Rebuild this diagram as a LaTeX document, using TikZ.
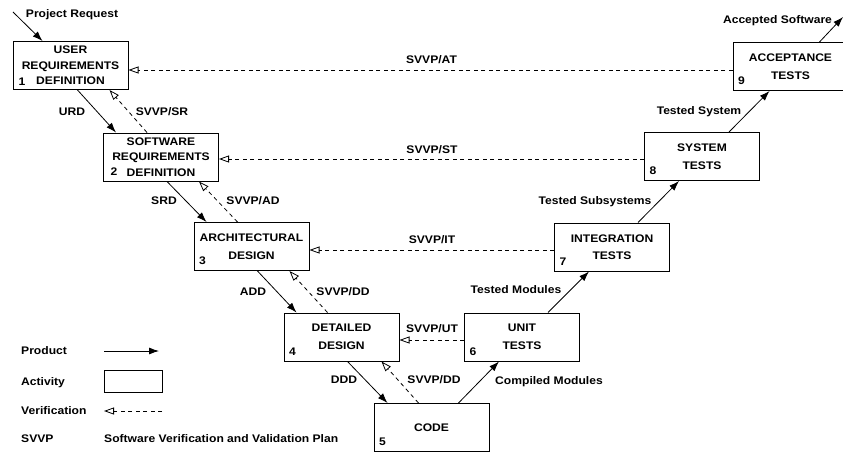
\documentclass[tikz,border=0pt]{standalone}
\usepackage{fontspec}
\setmainfont{Liberation Sans}[FakeStretch=1.1]
\usetikzlibrary{arrows.meta,calc}
\tikzset{
  box/.style={draw, line width=1pt, minimum width=115pt, minimum height=48pt, inner sep=0pt, align=center, font=\bfseries\fontsize{11}{15.5}\selectfont},
  boxtwo/.style={box, font=\bfseries\fontsize{11}{17.5}\selectfont},
  num/.style={font=\bfseries\fontsize{11}{13}\selectfont, inner sep=0pt, text height=7.8pt, text depth=0pt},
  lbl/.style={font=\bfseries\fontsize{11}{13}\selectfont, inner sep=0pt, text height=7.8pt, text depth=0pt},
  prod/.style={line width=0.8pt, -{Latex[length=10pt,width=7pt]}},
  verif/.style={line width=0.8pt, dash pattern=on 4pt off 3.5pt, -{Triangle[open,length=10pt,width=7pt]}},
}
\begin{document}
\begin{tikzpicture}[x=1pt,y=-1pt]
\clip (0,0) rectangle (843,452);
\fill[white] (0,0) rectangle (843,452);
% boxes
\node[box] (u) at (70.5,65.5) {USER\\REQUIREMENTS\\DEFINITION};
\node[box] (s) at (161,157) {SOFTWARE\\REQUIREMENTS\\DEFINITION};
\node[boxtwo] (a) at (251.5,246.5) {ARCHITECTURAL\\DESIGN};
\node[boxtwo] (d) at (341.5,337) {DETAILED\\DESIGN};
\node[box] (c) at (431.5,427.5) {CODE};
\node[boxtwo] (ut) at (522,337) {UNIT\\TESTS};
\node[boxtwo] (it) at (612,247) {INTEGRATION\\TESTS};
\node[boxtwo] (st) at (702,156.5) {SYSTEM\\TESTS};
\node[boxtwo] (at) at (790.5,66.5) {ACCEPTANCE\\TESTS};
% numbers
\node[num] (n1) at ($(u.south west)+(9.5,-8.5)$) {1};
\node[num] (n2) at ($(s.south west)+(11,-9.5)$) {2};
\node[num] (n3) at ($(a.south west)+(9,-10)$) {3};
\node[num] (n4) at ($(d.south west)+(9,-10)$) {4};
\node[num] (n5) at ($(c.south west)+(9,-10)$) {5};
\node[num] (n6) at ($(ut.south west)+(9,-10)$) {6};
\node[num] (n7) at ($(it.south west)+(9,-10)$) {7};
\node[num] (n8) at ($(st.south west)+(9,-10)$) {8};
\node[num] (n9) at ($(at.south west)+(9,-10)$) {9};
% in / out
\coordinate (pr) at (13,12);
\coordinate (as) at (843,17);
\draw[prod] (pr) -- ([xshift=30pt]u.north west);
\draw[prod] ([xshift=87pt]at.north west) -- (as);
\node[lbl] (prl) at (72,14) {Project Request};
\node[lbl] (asl) at (777.5,20) {Accepted Software};
% product arrows down
\draw[prod] ([xshift=65pt]u.south west) -- ([xshift=13pt]s.north west);
\draw[prod] ([xshift=64pt]s.south west) -- ([xshift=13pt]a.north west);
\draw[prod] ([xshift=64pt]a.south west) -- ([xshift=13pt]d.north west);
\draw[prod] ([xshift=64pt]d.south west) -- ([xshift=14pt]c.north west);
% product arrows up
\draw[prod] ([xshift=85pt]c.north west) -- ([xshift=35pt]ut.south west);
\draw[prod] ([xshift=84pt]ut.north west) -- ([xshift=35pt]it.south west);
\draw[prod] ([xshift=84pt]it.north west) -- ([xshift=35pt]st.south west);
\draw[prod] ([xshift=85pt]st.north west) -- ([xshift=37pt]at.south west);
% verification diagonal
\draw[verif] ([xshift=44pt]s.north west) -- ([xshift=97pt]u.south west);
\draw[verif] ([xshift=44pt]a.north west) -- ([xshift=96pt]s.south west);
\draw[verif] ([xshift=44pt]d.north west) -- ([xshift=96pt]a.south west);
\draw[verif] ([xshift=45pt]c.north west) -- ([xshift=98pt]d.south west);
% verification horizontal
\draw[verif] ([yshift=-3.5pt]at.west) -- ([yshift=-4.5pt]u.east);
\draw[verif] ([yshift=-2.5pt]st.west) -- ([yshift=-2pt]s.east);
\draw[verif] ([yshift=-3pt]it.west) -- ([yshift=-3.5pt]a.east);
\draw[verif] ([yshift=-3pt]ut.west) -- ([yshift=-3pt]d.east);
% labels
\node[lbl] (l1) at (72,112) {URD};
\node[lbl] (l2) at (162,112) {SVVP/SR};
\node[lbl] (l3) at (164,201) {SRD};
\node[lbl] (l4) at (253,201) {SVVP/AD};
\node[lbl] (l5) at (253,292) {ADD};
\node[lbl] (l6) at (343,292) {SVVP/DD};
\node[lbl] (l7) at (344,380) {DDD};
\node[lbl] (l8) at (434,380) {SVVP/DD};
\node[lbl] (l9) at (549,381) {Compiled Modules};
\node[lbl] (l10) at (516,290) {Tested Modules};
\node[lbl] (l11) at (595,201) {Tested Subsystems};
\node[lbl] (l12) at (699,111) {Tested System};
\node[lbl] (l13) at (431.5,60) {SVVP/AT};
\node[lbl] (l14) at (432,150) {SVVP/ST};
\node[lbl] (l15) at (432,240) {SVVP/IT};
\node[lbl] (l16) at (432,329) {SVVP/UT};
% legend
\node[lbl, anchor=west] (gp) at (21,351) {Product};
\node[lbl, anchor=west] (ga) at (21,382) {Activity};
\node[lbl, anchor=west] (gv) at (21,411) {Verification};
\node[lbl, anchor=west] (gs) at (21,439) {SVVP};
\node[lbl, anchor=west] (gsd) at (104,439) {Software Verification and Validation Plan};
\coordinate (gp1) at (104,351);
\coordinate (gp2) at (159,351);
\draw[prod] (gp1) -- (gp2);
\node[draw, line width=0.8pt, minimum width=58pt, minimum height=22pt, inner sep=0pt] (gbox) at (133,381) {};
\coordinate (gv1) at (162,411);
\coordinate (gv2) at (104,411);
\draw[verif] (gv1) -- (gv2);
\end{tikzpicture}
\end{document}
